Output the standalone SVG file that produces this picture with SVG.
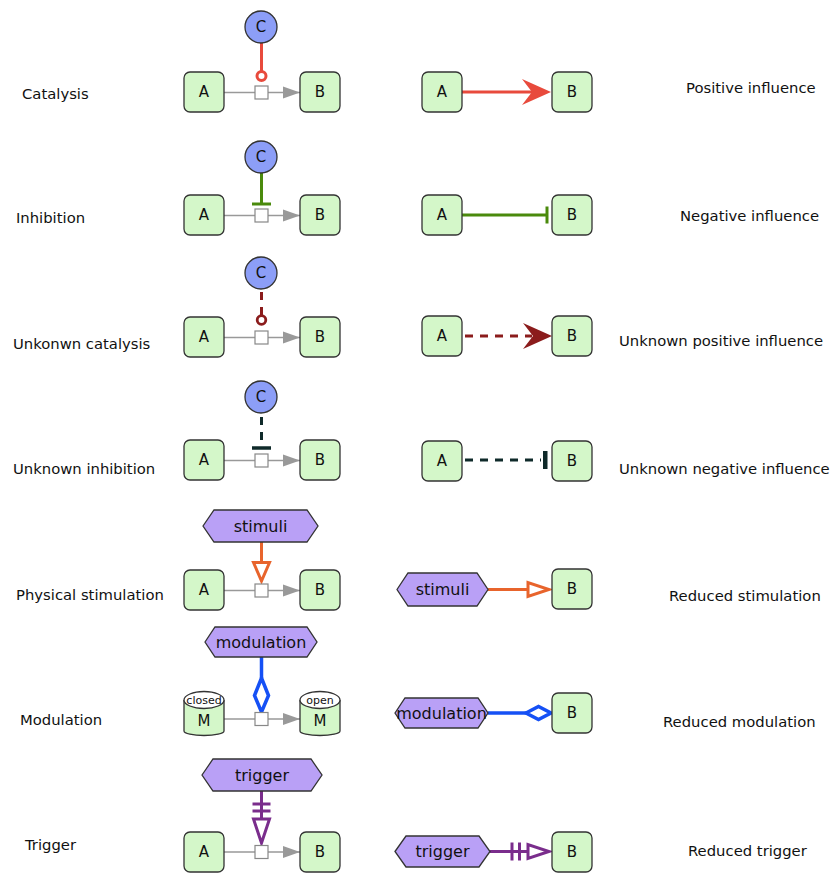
<svg xmlns="http://www.w3.org/2000/svg" width="840" height="873" viewBox="0 0 840 873">
  <style>
    .lbl { font-family: "DejaVu Sans", "Liberation Sans", sans-serif; font-size: 14.8px; fill: #111; }
    .nt { font-family: "DejaVu Sans", "Liberation Sans", sans-serif; font-size: 15px; fill: #111; text-anchor: middle; dominant-baseline: central; }
    .ht { font-size: 16px; }
    .st { font-family: "DejaVu Sans", "Liberation Sans", sans-serif; font-size: 11px; fill: #111; text-anchor: middle; dominant-baseline: central; }
    .box { fill: #d4f7c9; stroke: #333; stroke-width: 1.3; }
    .cmp { fill: #8c9ef7; stroke: #333; stroke-width: 1.3; }
    .hex { fill: #b9a0f6; stroke: #333; stroke-width: 1.3; }
    .proc { fill: #fff; stroke: #888; stroke-width: 1.2; }
    .cons { fill: none; stroke: #999; stroke-width: 1.5; }
    .red { stroke: #e84a3c; stroke-width: 3; fill: none; }
    .green { stroke: #4a8a0c; stroke-width: 3; fill: none; }
    .dred { stroke: #8b1c1c; stroke-width: 3; fill: none; stroke-dasharray: 8 7; }
    .dteal { stroke: #0f2a2a; stroke-width: 3; fill: none; stroke-dasharray: 8 7; }
    .orange { stroke: #e8642c; stroke-width: 3; fill: none; }
    .blue { stroke: #1550f5; stroke-width: 3.5; fill: none; }
    .purple { stroke: #7a2d8c; stroke-width: 3; fill: none; }
    .open { fill: #fff; }
  </style>
  <defs>
    <marker id="prod" markerUnits="userSpaceOnUse" markerWidth="20" markerHeight="14" refX="17" refY="7" orient="auto">
      <path d="M0,1 L17,7 L0,13 Z" fill="#999"/>
    </marker>
  </defs>

  <!-- labels -->
  <g id="labels">
    <text class="lbl" x="22" y="99">Catalysis</text>
    <text class="lbl" x="686" y="93">Positive influence</text>
    <text class="lbl" x="16" y="223">Inhibition</text>
    <text class="lbl" x="680" y="221">Negative influence</text>
    <text class="lbl" x="13" y="349">Unkonwn catalysis</text>
    <text class="lbl" x="619" y="346">Unknown positive influence</text>
    <text class="lbl" x="13" y="474">Unknown inhibition</text>
    <text class="lbl" x="619" y="474">Unknown negative influence</text>
    <text class="lbl" x="16" y="600">Physical stimulation</text>
    <text class="lbl" x="669" y="601">Reduced stimulation</text>
    <text class="lbl" x="20" y="725">Modulation</text>
    <text class="lbl" x="663" y="727">Reduced modulation</text>
    <text class="lbl" x="25" y="850">Trigger</text>
    <text class="lbl" x="688" y="856">Reduced trigger</text>
  </g>

  <!-- connectors -->
  <g id="connectors">
    <!-- process reactions A -> [] -> B -->
    <path class="cons" d="M224,92.5 H255"/><path class="cons" d="M268,92.5 H300" marker-end="url(#prod)"/>
    <path class="cons" d="M224,215.5 H255"/><path class="cons" d="M268,215.5 H300" marker-end="url(#prod)"/>
    <path class="cons" d="M224,337.5 H255"/><path class="cons" d="M268,337.5 H300" marker-end="url(#prod)"/>
    <path class="cons" d="M224,460.5 H255"/><path class="cons" d="M268,460.5 H300" marker-end="url(#prod)"/>
    <path class="cons" d="M224,590.5 H255"/><path class="cons" d="M268,590.5 H300" marker-end="url(#prod)"/>
    <path class="cons" d="M224,719 H255"/><path class="cons" d="M268,719 H300" marker-end="url(#prod)"/>
    <path class="cons" d="M224,852 H255"/><path class="cons" d="M268,852 H300" marker-end="url(#prod)"/>

    <!-- catalysis -->
    <line class="red" x1="261.5" y1="43" x2="261.5" y2="71"/>
    <circle class="red open" cx="261.5" cy="76" r="4.5"/>
    <!-- positive influence -->
    <line class="red" x1="462" y1="92" x2="535" y2="92"/>
    <path d="M551,92 L522,79 L532,92 L522,105 Z" fill="#e84a3c"/>

    <!-- inhibition -->
    <line class="green" x1="261.5" y1="173" x2="261.5" y2="204"/>
    <line class="green" x1="252" y1="204" x2="271" y2="204" stroke-width="3.5"/>
    <!-- negative influence -->
    <line class="green" x1="462" y1="215" x2="546" y2="215"/>
    <line class="green" x1="547" y1="206.5" x2="547" y2="223.5" stroke-width="3.5"/>

    <!-- unknown catalysis -->
    <line class="dred" x1="261.5" y1="292" x2="261.5" y2="316" stroke-dasharray="8 8"/>
    <circle cx="261.5" cy="320" r="4.3" fill="#fff" stroke="#8b1c1c" stroke-width="2.8"/>
    <!-- unknown positive influence -->
    <line class="dred" x1="465" y1="336" x2="532" y2="336"/>
    <path d="M552,336 L523,323 L533,336 L523,349 Z" fill="#8b1c1c"/>

    <!-- unknown inhibition -->
    <line class="dteal" x1="261.5" y1="417" x2="261.5" y2="444" stroke-dasharray="6 9"/>
    <line x1="252" y1="448" x2="271" y2="448" stroke="#0f2a2a" stroke-width="3.5"/>
    <!-- unknown negative influence -->
    <line class="dteal" x1="465" y1="460" x2="541" y2="460"/>
    <rect x="543" y="451" width="4.5" height="18" fill="#0f2a2a"/>

    <!-- physical stimulation -->
    <line class="orange" x1="261.5" y1="542" x2="261.5" y2="562"/>
    <path class="orange open" d="M253.5,562.5 H269.5 L261.5,581 Z"/>
    <!-- reduced stimulation -->
    <line class="orange" x1="488" y1="589.5" x2="527" y2="589.5"/>
    <path class="orange open" d="M528,582.5 V596.5 L549,589.5 Z"/>

    <!-- modulation -->
    <line class="blue" x1="261.5" y1="657" x2="261.5" y2="678"/>
    <path class="blue open" d="M261.5,678 L268.5,695.5 L261.5,712 L254.5,695.5 Z"/>
    <!-- reduced modulation -->
    <line class="blue" x1="488" y1="713" x2="526" y2="713"/>
    <path class="blue open" d="M526,713 L538.5,706.5 L551,713 L538.5,719.5 Z"/>

    <!-- trigger -->
    <line class="purple" x1="261.5" y1="791" x2="261.5" y2="818"/>
    <line class="purple" x1="252.5" y1="804" x2="270.5" y2="804" stroke-width="3.5"/>
    <line class="purple" x1="252.5" y1="811" x2="270.5" y2="811" stroke-width="3.5"/>
    <path class="purple open" d="M253.5,819 H269.5 L261.5,843 Z"/>
    <!-- reduced trigger -->
    <line class="purple" x1="490" y1="851.5" x2="528" y2="851.5"/>
    <line class="purple" x1="512" y1="842.5" x2="512" y2="860.5" stroke-width="4"/>
    <line class="purple" x1="519.5" y1="842.5" x2="519.5" y2="860.5" stroke-width="4"/>
    <path class="purple open" d="M528,844.5 V858.5 L549,851.5 Z"/>
  </g>

  <!-- process squares -->
  <g id="processes">
    <rect class="proc" x="255" y="86" width="13" height="13"/>
    <rect class="proc" x="255" y="209" width="13" height="13"/>
    <rect class="proc" x="255" y="331" width="13" height="13"/>
    <rect class="proc" x="255" y="454" width="13" height="13"/>
    <rect class="proc" x="255" y="584" width="13" height="13"/>
    <rect class="proc" x="255" y="712.5" width="13" height="13"/>
    <rect class="proc" x="255" y="845.5" width="13" height="13"/>
  </g>

  <!-- row 1 -->
  <g id="catalysis-A"><rect class="box" x="184" y="72" width="40" height="40" rx="6"/><text class="nt" x="204" y="92">A</text></g>
  <g id="catalysis-B"><rect class="box" x="300" y="72" width="40" height="40" rx="6"/><text class="nt" x="320" y="92">B</text></g>
  <g id="catalysis-C"><circle class="cmp" cx="261" cy="27" r="16"/><text class="nt" x="261" y="27">C</text></g>
  <g id="positive-A"><rect class="box" x="422" y="72" width="40" height="40" rx="6"/><text class="nt" x="442" y="92">A</text></g>
  <g id="positive-B"><rect class="box" x="552" y="72" width="40" height="40" rx="6"/><text class="nt" x="572" y="92">B</text></g>

  <!-- row 2 -->
  <g id="inhibition-A"><rect class="box" x="184" y="195" width="40" height="40" rx="6"/><text class="nt" x="204" y="215">A</text></g>
  <g id="inhibition-B"><rect class="box" x="300" y="195" width="40" height="40" rx="6"/><text class="nt" x="320" y="215">B</text></g>
  <g id="inhibition-C"><circle class="cmp" cx="261" cy="157" r="16"/><text class="nt" x="261" y="157">C</text></g>
  <g id="negative-A"><rect class="box" x="422" y="195" width="40" height="40" rx="6"/><text class="nt" x="442" y="215">A</text></g>
  <g id="negative-B"><rect class="box" x="552" y="195" width="40" height="40" rx="6"/><text class="nt" x="572" y="215">B</text></g>

  <!-- row 3 -->
  <g id="ucatalysis-A"><rect class="box" x="184" y="317" width="40" height="40" rx="6"/><text class="nt" x="204" y="337">A</text></g>
  <g id="ucatalysis-B"><rect class="box" x="300" y="317" width="40" height="40" rx="6"/><text class="nt" x="320" y="337">B</text></g>
  <g id="ucatalysis-C"><circle class="cmp" cx="261" cy="273" r="16"/><text class="nt" x="261" y="273">C</text></g>
  <g id="upositive-A"><rect class="box" x="422" y="316" width="40" height="40" rx="6"/><text class="nt" x="442" y="336">A</text></g>
  <g id="upositive-B"><rect class="box" x="552" y="316" width="40" height="40" rx="6"/><text class="nt" x="572" y="336">B</text></g>

  <!-- row 4 -->
  <g id="uinhibition-A"><rect class="box" x="184" y="440" width="40" height="40" rx="6"/><text class="nt" x="204" y="460">A</text></g>
  <g id="uinhibition-B"><rect class="box" x="300" y="440" width="40" height="40" rx="6"/><text class="nt" x="320" y="460">B</text></g>
  <g id="uinhibition-C"><circle class="cmp" cx="261" cy="397" r="16"/><text class="nt" x="261" y="397">C</text></g>
  <g id="unegative-A"><rect class="box" x="422" y="441" width="40" height="40" rx="6"/><text class="nt" x="442" y="461">A</text></g>
  <g id="unegative-B"><rect class="box" x="552" y="441" width="40" height="40" rx="6"/><text class="nt" x="572" y="461">B</text></g>

  <!-- row 5 -->
  <g id="stimulation-A"><rect class="box" x="184" y="570" width="40" height="40" rx="6"/><text class="nt" x="204" y="590">A</text></g>
  <g id="stimulation-B"><rect class="box" x="300" y="570" width="40" height="40" rx="6"/><text class="nt" x="320" y="590">B</text></g>
  <g id="stimulation-stimuli"><path class="hex" d="M203,526 L214,510 H307 L318,526 L307,542 H214 Z"/><text class="nt ht" x="260.5" y="526">stimuli</text></g>
  <g id="rstimulation-stimuli"><path class="hex" d="M397,589.5 L408,573 H477 L488,589.5 L477,606 H408 Z"/><text class="nt ht" x="442.5" y="589.5">stimuli</text></g>
  <g id="rstimulation-B"><rect class="box" x="552" y="569" width="40" height="40" rx="6"/><text class="nt" x="572" y="589">B</text></g>

  <!-- row 6 -->
  <g id="modulation-closed">
    <path class="box" d="M184,700 V731 A20,4.5 0 0 0 224,731 V700"/>
    <ellipse cx="204" cy="700" rx="20" ry="8.5" fill="#fff" stroke="#333" stroke-width="1.3"/>
    <text class="st" x="204" y="700">closed</text>
    <text class="nt" x="204" y="721">M</text>
  </g>
  <g id="modulation-open">
    <path class="box" d="M300,700 V731 A20,4.5 0 0 0 340,731 V700"/>
    <ellipse cx="320" cy="700" rx="20" ry="8.5" fill="#fff" stroke="#333" stroke-width="1.3"/>
    <text class="st" x="320" y="700">open</text>
    <text class="nt" x="320" y="721">M</text>
  </g>
  <g id="modulation-mod"><path class="hex" d="M205,642 L215,627 H307 L317,642 L307,657 H215 Z"/><text class="nt ht" x="261" y="642">modulation</text></g>
  <g id="rmodulation-mod"><path class="hex" d="M395,713 L405,698 H478 L488,713 L478,728 H405 Z"/><text class="nt ht" x="441.5" y="713">modulation</text></g>
  <g id="rmodulation-B"><rect class="box" x="552" y="693" width="40" height="40" rx="6"/><text class="nt" x="572" y="713">B</text></g>

  <!-- row 7 -->
  <g id="trigger-A"><rect class="box" x="184" y="832" width="40" height="40" rx="6"/><text class="nt" x="204" y="852">A</text></g>
  <g id="trigger-B"><rect class="box" x="300" y="832" width="40" height="40" rx="6"/><text class="nt" x="320" y="852">B</text></g>
  <g id="trigger-trig"><path class="hex" d="M202,775 L213,759 H311 L322,775 L311,791 H213 Z"/><text class="nt ht" x="262" y="775">trigger</text></g>
  <g id="rtrigger-trig"><path class="hex" d="M395,851.5 L406,836 H479 L490,851.5 L479,867 H406 Z"/><text class="nt ht" x="442.5" y="851.5">trigger</text></g>
  <g id="rtrigger-B"><rect class="box" x="552" y="832" width="40" height="40" rx="6"/><text class="nt" x="572" y="852">B</text></g>
</svg>
